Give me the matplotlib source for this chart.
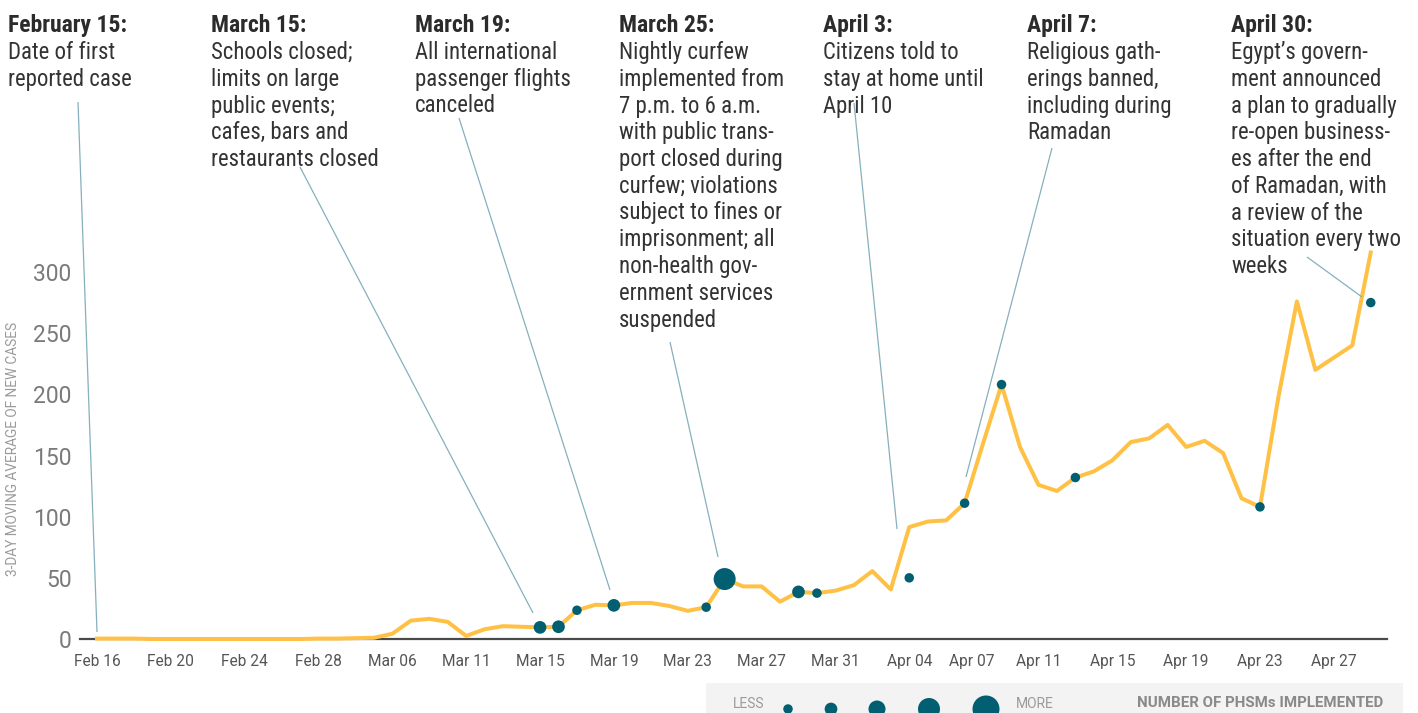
import matplotlib
matplotlib.use('Agg')
import matplotlib.pyplot as plt
from matplotlib import font_manager as fm
from matplotlib.patches import Rectangle

# ---------------- data ----------------
tick_labels = ["Feb 16", "Feb 20", "Feb 24", "Feb 28", "Mar 06", "Mar 11", "Mar 15",
               "Mar 19", "Mar 23", "Mar 27", "Mar 31", "Apr 04", "Apr 07", "Apr 11",
               "Apr 15", "Apr 19", "Apr 23", "Apr 27"]
tick_pos = [0, 4, 8, 12, 16, 20, 24, 28, 32, 36, 40, 44, 47.4, 51, 55, 59, 63, 67]

cases = [0.33, 0.33, 0.33, 0, 0, 0, 0, 0, 0, 0, 0, 0, 0.33, 0.33, 0.67, 1,
         4.3, 15, 16.5, 14, 2.5, 8, 10.5, 10, 9.5, 10, 23.5, 28, 27.5, 29.5,
         29.5, 27, 23, 26, 49, 43, 43, 30.5, 38.5, 37.5, 39.5, 44, 55.5, 40.5,
         91.5, 96, 97, 111, 160, 208, 157, 126, 121, 132, 137, 146, 161, 164,
         175, 157, 162, 152, 115, 108, 198, 276, 220, 230, 240, 316]

dot_idx = [24, 25, 26, 28, 33, 34, 38, 39, 44, 47, 49, 53, 63, 69]
dot_val = [9.5, 10, 23.5, 27.5, 26, 49, 38.5, 37.5, 50, 111, 208, 132, 108, 275]
dot_phsm = [2, 2, 1, 2, 1, 4, 2, 1, 1, 1, 1, 1, 1, 1]

y_ticks = [0, 50, 100, 150, 200, 250, 300]

events = [
    ("February 15:", ["Date of first", "reported case"]),
    ("March 15:", ["Schools closed;", "limits on large", "public events;",
                   "cafes, bars and", "restaurants closed"]),
    ("March 19:", ["All international", "passenger flights", "canceled"]),
    ("March 25:", ["Nightly curfew", "implemented from", "7 p.m. to 6 a.m.",
                   "with public trans-", "port closed during", "curfew; violations",
                   "subject to fines or", "imprisonment; all", "non-health gov-",
                   "ernment services", "suspended"]),
    ("April 3:", ["Citizens told to", "stay at home until", "April 10"]),
    ("April 7:", ["Religious gath-", "erings banned,", "including during", "Ramadan"]),
    ("April 30:", ["Egypt\u2019s govern-", "ment announced", "a plan to gradually",
                   "re-open business-", "es after the end", "of Ramadan, with",
                   "a review of the", "situation every two", "weeks"]),
]
legend_levels = [1, 2, 3, 4, 5]

# ---------------- styling ----------------
W, H = 1418, 713
names = {f.name for f in fm.fontManager.ttflist}
def pick(*c):
    for n in c:
        if n in names:
            return n
    return 'DejaVu Sans'
COND = pick('Roboto Condensed', 'Liberation Sans Narrow', 'Roboto', 'Liberation Sans')
SANS = pick('Roboto', 'Liberation Sans', 'DejaVu Sans')

ORANGE = '#FFC145'
TEAL = '#025F72'
LEADER = '#86B0BD'
PX = 0.72  # points per pixel at dpi 100
diam_px = {1: 9.5, 2: 12.7, 3: 17, 4: 22, 5: 27}

fig = plt.figure(figsize=(W / 100, H / 100), dpi=100)
fig.patch.set_facecolor('white')

ax_left, ax_right = 80, 1387
ax_bottom_px = 639
ymax = 325
px_per_unit = 1.2233
ax_top_px = ax_bottom_px - ymax * px_per_unit
ax = fig.add_axes([ax_left / W, 1 - ax_bottom_px / H,
                   (ax_right - ax_left) / W, (ax_bottom_px - ax_top_px) / H])
ax.set_xlim(-0.92, 69.88)
ax.set_ylim(0, ymax)
ax.patch.set_alpha(0)

ax.plot(range(len(cases)), cases, color=ORANGE, lw=4 * PX, zorder=3,
        solid_joinstyle='round', clip_on=False)
ax.scatter(dot_idx, dot_val, s=[(diam_px[p] * PX) ** 2 for p in dot_phsm],
           color=TEAL, linewidths=0, zorder=4, clip_on=False)

for s in ['top', 'right', 'left']:
    ax.spines[s].set_visible(False)
ax.spines['bottom'].set_color('#4a4a4a')
ax.spines['bottom'].set_linewidth(1.6)
ax.spines['bottom'].set_zorder(2)

ax.set_xticks(tick_pos)
ax.set_xticklabels(tick_labels, fontfamily=SANS, fontsize=11.2, color='#555555')
ax.set_yticks(y_ticks)
ax.set_yticklabels([str(v) for v in y_ticks], fontfamily=SANS, fontsize=16.5,
                   color='#7a7a7a')
ax.tick_params(axis='x', length=0, pad=11)
ax.tick_params(axis='y', length=0, pad=6)

# overlay in pixel coordinates
ov = fig.add_axes([0, 0, 1, 1], zorder=5)
ov.set_xlim(0, W)
ov.set_ylim(H, 0)
ov.axis('off')
ov.patch.set_alpha(0)

ov.text(13, 449, "3-DAY MOVING AVERAGE OF NEW CASES", rotation=90, ha='center',
        va='center', fontfamily=SANS, fontsize=9.8, color='#9a9a9a')

# annotation texts
col_x = [8, 211, 415, 619, 823, 1027, 1231]
for (title, body), x in zip(events, col_x):
    ov.text(x, 32, title, fontfamily=COND, fontweight='bold', fontsize=17,
            color='#2b2b2b', va='baseline', ha='left')
    for k, line in enumerate(body):
        ov.text(x, 59 + 26.75 * k, line, fontfamily=COND, fontsize=16.4,
                color='#333333', va='baseline', ha='left')

# leader lines
leaders = [((78, 102), (97, 632)), ((300, 167), (533, 613)), ((459, 118), (610, 590)),
           ((670, 342), (718, 557)), ((854, 103), (897, 529)), ((1052, 148), (966, 477)),
           ((1307, 257), (1362, 297))]
for (x0, y0), (x1, y1) in leaders:
    ov.plot([x0, x1], [y0, y1], color=LEADER, lw=0.9, solid_capstyle='butt')

# legend bar
ov.add_patch(Rectangle((706, 683), 1403 - 706, 40, color='#F3F3F3', zorder=0, lw=0))
ov.text(733, 703.5, "LESS", fontfamily=SANS, fontsize=10, color='#9a9a9a',
        ha='left', va='center')
leg_x = [788, 831, 877, 929, 986]
ov.scatter(leg_x, [709] * 5, s=[(diam_px[l] * PX) ** 2 for l in legend_levels],
           color=TEAL, linewidths=0, zorder=2, clip_on=True)
ov.text(1016, 703.5, "MORE", fontfamily=SANS, fontsize=10, color='#9a9a9a',
        ha='left', va='center')
ov.text(1383, 703, "NUMBER OF PHSMs IMPLEMENTED", fontfamily=SANS, fontweight='bold',
        fontsize=10.8, color='#8a8a8a', ha='right', va='center')

fig.savefig('out.png', dpi=100, facecolor='white')
